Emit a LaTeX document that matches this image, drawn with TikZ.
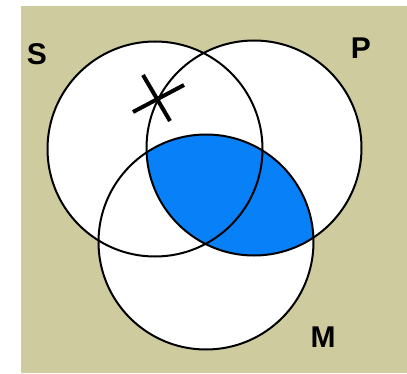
\documentclass[tikz,border=0pt]{standalone}
\usepackage{fontspec}
\setmainfont{Liberation Sans}
\definecolor{vnkhaki}{RGB}{206,204,158}
\definecolor{vnblue}{RGB}{8,128,248}
\usepackage{tikz}

\begin{document}
\begin{tikzpicture}[x=1pt,y=-1pt,
  ring/.style={draw=black,line width=2pt},
  lbl/.style={font=\fontsize{30}{32}\selectfont\bfseries,inner sep=0pt},
  cross/.style={line width=4pt,line cap=butt}]
  \useasboundingbox (0,0) rectangle (407,374);
  \fill[vnkhaki] (21,6) rectangle (407,373);
  \coordinate (cs) at (155,149);
  \coordinate (cp) at (254,148);
  \coordinate (cm) at (206,242);
  \fill[white] (cs) circle (107.5) (cp) circle (107.5) (cm) circle (107.5);
  % shaded P and M
  \begin{scope}
    \clip (cp) circle (107.5);
    \fill[vnblue] (cm) circle (107.5);
  \end{scope}
  \draw[ring] (cs) circle (107.5);
  \draw[ring] (cp) circle (107.5);
  \draw[ring] (cm) circle (107.5);
  \draw[cross] (143,75) -- (170,121);
  \draw[cross] (133,112) -- (184,85);
  \node[lbl] (s) at (37,54) {S};
  \node[lbl] (p) at (361,48) {P};
  \node[lbl] (m) at (323,337) {M};
\end{tikzpicture}
\end{document}
